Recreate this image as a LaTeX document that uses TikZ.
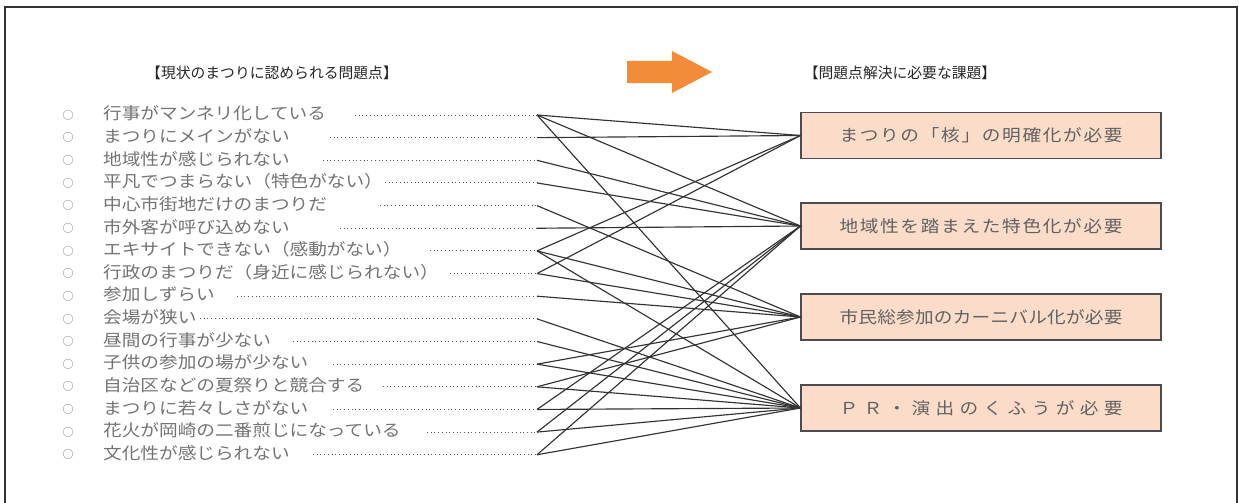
\documentclass[tikz,border=0pt]{standalone}
\usepackage{fontspec}
\newfontfamily\jp{Noto Sans CJK JP}
\newfontfamily\jpw[FakeStretch=1.13]{Noto Sans CJK JP}
\definecolor{peach}{RGB}{250,220,200}
\definecolor{arroworange}{RGB}{242,140,58}
\def\spreadit#1#2\relax{#1\sploop#2\relax}
\def\sploop#1{\ifx#1\relax\else\hfill#1\expandafter\sploop\fi}
\newcommand\boxtext[1]{\makebox[283pt][s]{\spreadit#1\relax}}
\begin{document}
\begin{tikzpicture}[x=1pt,y=-1pt,
  frame/.style={draw=black!80,line width=1.3pt},
  heading/.style={inner sep=0pt,text=black!85,font=\jp\fontsize{14.8}{14.8}\selectfont},
  item/.style={inner sep=0pt,anchor=west,text=black!55,font=\jpw\fontsize{16.5}{16.5}\selectfont},
  bullet/.style={inner sep=0pt,text=black!55,font=\jp\fontsize{11}{11}\selectfont},
  leader/.style={draw=black!65,line width=1pt,dash pattern=on 0.9pt off 2.8pt},
  conn/.style={draw=black!80,line width=1.15pt},
  task/.style={draw=black!70,fill=peach,line width=1.1pt,minimum width=360pt,minimum height=46pt,inner sep=0pt,text=black!62,font=\jpw\fontsize{16.5}{16.5}\selectfont}]
\useasboundingbox (0,0) rectangle (1239,503);
\draw[frame] (5,520) -- (5,7) -- (1237,7) -- (1237,520);
% headings
\node[heading] (h1) at (272,73) {【現状のまつりに認められる問題点】};
\node[heading] (h2) at (900,73) {【問題点解決に必要な課題】};
% orange arrow
\fill[arroworange] (627,61) -- (672,61) -- (672,51) -- (712,72) -- (672,93) -- (672,83) -- (627,83) -- cycle;
% problem list
\foreach \i/\txt/\dx in {
 1/行事がマンネリ化している/355,
 2/まつりにメインがない/330,
 3/地域性が感じられない/323,
 4/平凡でつまらない（特色がない）/385,
 5/中心市街地だけのまつりだ/380,
 6/市外客が呼び込めない/340,
 7/エキサイトできない（感動がない）/430,
 8/行政のまつりだ（身近に感じられない）/450,
 9/参加しずらい/237,
 10/会場が狭い/200,
 11/昼間の行事が少ない/293,
 12/子供の参加の場が少ない/333,
 13/自治区などの夏祭りと競合する/383,
 14/まつりに若々しさがない/333,
 15/花火が岡崎の二番煎じになっている/427,
 16/文化性が感じられない/313}{
  \pgfmathsetmacro\yy{115+22.65*(\i-1)}
  \node[bullet] (o\i) at (68,\yy) {○};
  \node[item] (t\i) at (103,\yy-1.5) {\txt};
  \coordinate (d\i) at (\dx,\yy);
  \coordinate (l\i) at (537,\yy);
  \draw[leader] (d\i) -- (l\i);
}
% task boxes
\node[task] (b1) at (981,135.5) {\boxtext{まつりの「核」の明確化が必要}};
\node[task] (b2) at (981,226) {\boxtext{地域性を踏まえた特色化が必要}};
\node[task] (b3) at (981,317) {\boxtext{市民総参加のカーニバル化が必要}};
\node[task] (b4) at (981,408) {\boxtext{ＰＲ・演出のくふうが必要}};
% connectors
\foreach \a/\b in {1/1,1/2,1/4,2/1,3/2,4/2,5/3,6/2,7/1,7/3,7/4,8/1,8/3,9/3,10/4,11/4,12/3,12/4,13/3,13/4,14/2,14/4,15/2,15/4,16/2,16/4}
  \draw[conn] (l\a) -- (b\b.west);
\end{tikzpicture}
\end{document}
